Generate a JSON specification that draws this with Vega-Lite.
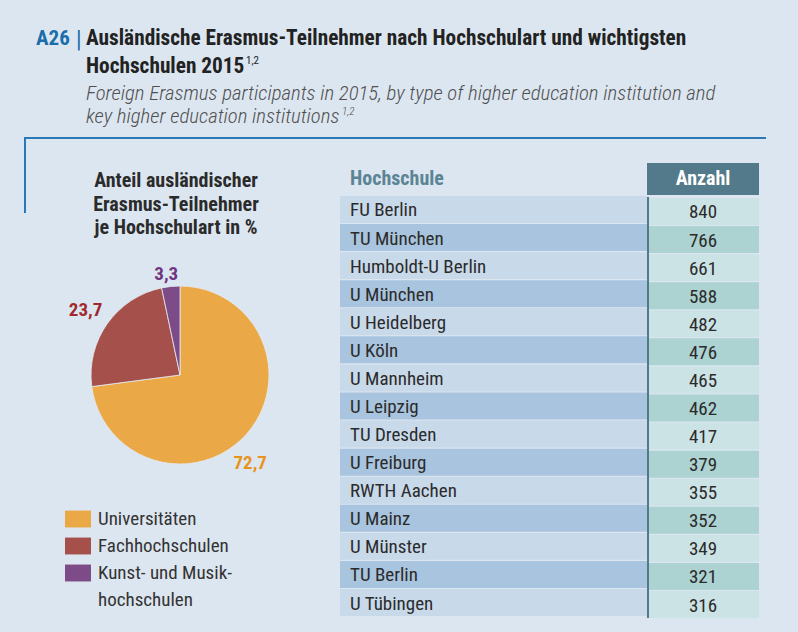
{
  "$schema": "https://vega.github.io/schema/vega-lite/v6.json",
  "background": "#dce6f0",
  "padding": {"left": 23, "top": 20, "right": 33, "bottom": 16},
  "config": {
    "font": "Roboto Condensed, DejaVu Sans Condensed, Liberation Sans Narrow, Liberation Sans",
    "view": {"stroke": null},
    "style": {"guide-label": {"lineHeight": 27}},
    "locale": {"number": {"decimal": ",", "thousands": ".", "grouping": [3], "currency": ["", " €"]}}
  },
  "datasets": {
    "anteile": [
      {"typ": "Universitäten", "anteil": 72.7},
      {"typ": "Fachhochschulen", "anteil": 23.7},
      {"typ": "Kunst- und Musikhochschulen", "anteil": 3.3}
    ],
    "hochschulen": [
      {"name": "FU Berlin", "anzahl": 840},
      {"name": "TU München", "anzahl": 766},
      {"name": "Humboldt-U Berlin", "anzahl": 661},
      {"name": "U München", "anzahl": 588},
      {"name": "U Heidelberg", "anzahl": 482},
      {"name": "U Köln", "anzahl": 476},
      {"name": "U Mannheim", "anzahl": 465},
      {"name": "U Leipzig", "anzahl": 462},
      {"name": "TU Dresden", "anzahl": 417},
      {"name": "U Freiburg", "anzahl": 379},
      {"name": "RWTH Aachen", "anzahl": 355},
      {"name": "U Mainz", "anzahl": 352},
      {"name": "U Münster", "anzahl": 349},
      {"name": "TU Berlin", "anzahl": 321},
      {"name": "U Tübingen", "anzahl": 316}
    ]
  },
  "bounds": "flush",
  "spacing": 25,
  "vconcat": [
    {
      "width": 742,
      "height": 118,
      "data": {"values": [{}]},
      "layer": [
        {"mark": {"type": "text", "text": "A26", "fontSize": 21, "fontWeight": "bold", "color": "#1a6dab", "align": "left", "baseline": "alphabetic"},
         "encoding": {"x": {"value": 12}, "y": {"value": 25}}},
        {"mark": {"type": "text", "text": "|", "fontSize": 23, "color": "#1a6dab", "align": "left", "baseline": "alphabetic"},
         "encoding": {"x": {"value": 52}, "y": {"value": 27}}},
        {"mark": {"type": "text", "text": ["Ausländische Erasmus-Teilnehmer nach Hochschulart und wichtigsten", "Hochschulen 2015"], "lineHeight": 28, "fontSize": 21.3, "fontWeight": "bold", "color": "#222222", "align": "left", "baseline": "alphabetic"},
         "encoding": {"x": {"value": 62}, "y": {"value": 25}}},
        {"mark": {"type": "text", "text": "1,2", "fontSize": 11, "color": "#222222", "align": "left", "baseline": "alphabetic"},
         "encoding": {"x": {"value": 222}, "y": {"value": 44}}},
        {"mark": {"type": "text", "text": ["Foreign Erasmus participants in 2015, by type of higher education institution and", "key higher education institutions"], "lineHeight": 23, "fontSize": 20.8, "fontStyle": "italic", "fontWeight": 300, "color": "#505050", "align": "left", "baseline": "alphabetic"},
         "encoding": {"x": {"value": 62}, "y": {"value": 80}}},
        {"mark": {"type": "text", "text": "1,2", "fontSize": 11, "fontStyle": "italic", "fontWeight": 300, "color": "#505050", "align": "left", "baseline": "alphabetic"},
         "encoding": {"x": {"value": 318}, "y": {"value": 95}}},
        {"mark": {"type": "rule", "color": "#2a78b5", "strokeWidth": 2},
         "encoding": {"x": {"value": 0}, "x2": {"value": 742}, "y": {"value": 118}}},
        {"mark": {"type": "rule", "color": "#2a78b5", "strokeWidth": 2},
         "encoding": {"x": {"value": 1}, "y": {"value": 117}, "y2": {"value": 193}}}
      ]
    },
    {
      "bounds": "flush",
      "spacing": 4,
      "hconcat": [
        {
          "width": 312,
          "height": 424,
          "title": {"text": ["Anteil ausländischer", "Erasmus-Teilnehmer", "je Hochschulart in %"], "fontSize": 20, "fontWeight": "bold", "color": "#2b2b2b", "lineHeight": 23.5, "anchor": "middle", "frame": "group", "offset": -75, "dx": -4},
          "data": {"name": "anteile"},
          "encoding": {
            "theta": {"field": "anteil", "type": "quantitative", "stack": true},
            "order": {"field": "anteil", "sort": "descending"}
          },
          "layer": [
            {
              "mark": {"type": "arc", "radius": 89, "stroke": "#e4ebf3", "strokeWidth": 0.8},
              "encoding": {
                "color": {
                  "field": "typ", "type": "nominal",
                  "scale": {"domain": ["Universitäten", "Fachhochschulen", "Kunst- und Musikhochschulen"], "range": ["#eaa846", "#a5504a", "#7d4b87"]},
                  "legend": {
                    "title": null, "orient": "none", "legendX": 41, "legendY": 486, "direction": "vertical",
                    "symbolType": "M-1,-0.65H1V0.65H-1Z", "symbolSize": 676, "symbolStrokeWidth": 0, "symbolOpacity": 1,
                    "labelFontSize": 19, "labelColor": "#333333", "labelOffset": 7, "rowPadding": 4, "labelLimit": 300,
                    "labelExpr": "datum.label == 'Kunst- und Musikhochschulen' ? ['Kunst- und Musik-', 'hochschulen'] : datum.label"
                  }
                }
              }
            },
            {
              "mark": {"type": "text", "radius": 112, "dx": -14, "dy": 14, "fontSize": 19, "fontWeight": "bold", "color": "#e8941c"},
              "encoding": {"text": {"condition": {"test": "datum.typ === 'Universitäten'", "field": "anteil", "type": "quantitative", "format": ".1f"}, "value": ""}}
            },
            {
              "mark": {"type": "text", "radius": 112, "dx": -3, "fontSize": 19, "fontWeight": "bold", "color": "#a0282e"},
              "encoding": {"text": {"condition": {"test": "datum.typ === 'Fachhochschulen'", "field": "anteil", "type": "quantitative", "format": ".1f"}, "value": ""}}
            },
            {
              "mark": {"type": "text", "radius": 104, "dx": -3, "dy": 2, "fontSize": 19, "fontWeight": "bold", "color": "#6f3580"},
              "encoding": {"text": {"condition": {"test": "datum.typ === 'Kunst- und Musikhochschulen'", "field": "anteil", "type": "quantitative", "format": ".1f"}, "value": ""}}
            }
          ]
        },
        {
          "spacing": 0,
          "hconcat": [
            {
              "spacing": 1,
              "vconcat": [
                {
                  "width": 307, "height": 32,
                  "data": {"values": [{"kopf": "Hochschule"}]},
                  "mark": {"type": "text", "align": "left", "baseline": "middle", "fontSize": 20, "fontWeight": "bold", "color": "#5b8494"},
                  "encoding": {"text": {"field": "kopf"}, "x": {"value": 10}}
                },
                {
                  "width": 307, "height": 420,
                  "data": {"name": "hochschulen"},
                  "transform": [{"window": [{"op": "row_number", "as": "nr"}]}],
                  "encoding": {"y": {"field": "name", "type": "nominal", "sort": null, "axis": null, "scale": {"paddingInner": 0.04, "paddingOuter": 0}}},
                  "layer": [
                    {"mark": {"type": "rect"},
                     "encoding": {"color": {"condition": {"test": "datum.nr % 2 == 0", "value": "#a9c4de"}, "value": "#c8d9ea"}}},
                    {"mark": {"type": "text", "align": "left", "baseline": "middle", "fontSize": 19, "color": "#2b2b2b", "dy": 1},
                     "encoding": {"text": {"field": "name"}, "x": {"value": 10}}}
                  ]
                }
              ]
            },
            {
              "spacing": 1,
              "vconcat": [
                {
                  "width": 112, "height": 32,
                  "view": {"fill": "#527a8a"},
                  "data": {"values": [{"kopf": "Anzahl"}]},
                  "mark": {"type": "text", "align": "center", "baseline": "middle", "fontSize": 20, "fontWeight": "bold", "color": "#ffffff"},
                  "encoding": {"text": {"field": "kopf"}}
                },
                {
                  "width": 112, "height": 420,
                  "data": {"name": "hochschulen"},
                  "transform": [{"window": [{"op": "row_number", "as": "nr"}]}],
                  "encoding": {"y": {"field": "name", "type": "nominal", "sort": null, "axis": null, "scale": {"paddingInner": 0.04, "paddingOuter": 0}}},
                  "layer": [
                    {"mark": {"type": "rect"},
                     "encoding": {"color": {"condition": {"test": "datum.nr % 2 == 0", "value": "#acd2d1"}, "value": "#cce3e6"}}},
                    {"mark": {"type": "text", "align": "center", "baseline": "middle", "fontSize": 19, "color": "#2b2b2b", "dy": 1},
                     "encoding": {"text": {"field": "anzahl", "type": "quantitative"}}},
                    {"data": {"values": [{}]},
                     "mark": {"type": "rule", "color": "#527a8a", "strokeWidth": 2},
                     "encoding": {"x": {"value": 1}, "y": {"value": -1}, "y2": {"value": 420}}}
                  ]
                }
              ]
            }
          ]
        }
      ]
    }
  ]
}
